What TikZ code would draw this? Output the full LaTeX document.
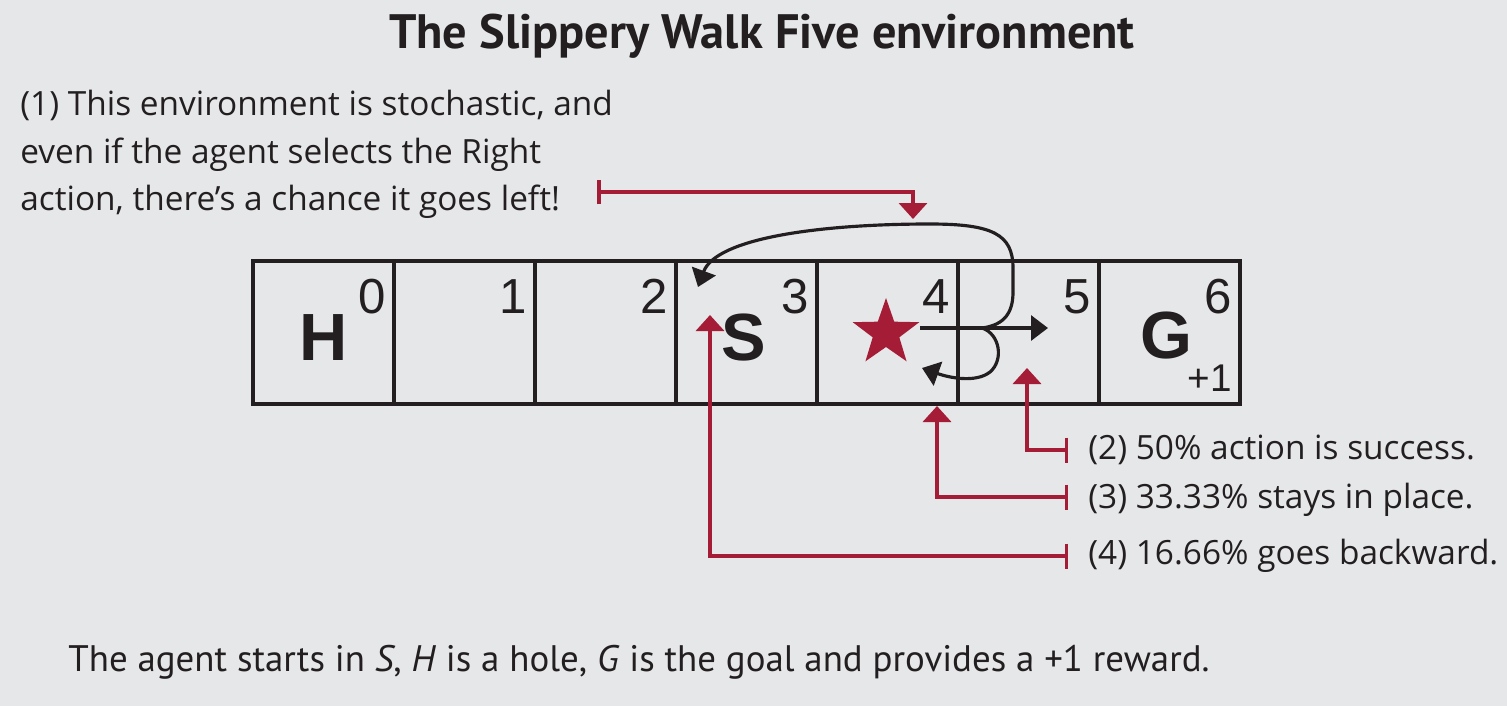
\documentclass[tikz,border=0pt]{standalone}
\usepackage{fontspec}
\setmainfont{PT Sans}
\newfontfamily\hintfont{Open Sans}
\newfontfamily\cellfont{Liberation Sans}
\usetikzlibrary{arrows.meta,shapes.geometric}
\definecolor{paper}{HTML}{E6E7E9}
\definecolor{ink}{HTML}{231F20}
\definecolor{wine}{HTML}{A51C36}

\begin{document}
\begin{tikzpicture}
  [x=0.02cm,y=-0.02cm,every node/.style={inner sep=0pt,text=ink},
   cellbox/.style={draw=ink,line width=2.2pt,minimum width=2.82cm,minimum height=2.86cm},
   cellnum/.style={font=\cellfont\fontsize{28}{28}\selectfont,anchor=north east},
   cellletter/.style={font=\cellfont\bfseries\fontsize{38}{38}\selectfont},
   hinttext/.style={font=\hintfont\fontsize{19}{27}\selectfont,align=left},
   movearrow/.style={draw=ink,line width=1.8pt,-{Triangle[width=0.5cm,length=0.34cm]}},
   hintarrow/.style={draw=wine,line width=2pt,{Bar[width=0.5cm]}-{Triangle[width=0.56cm,length=0.32cm]}}]
  \fill[paper] (0,0) rectangle (1507,706);

  \node[font=\bfseries\fontsize{27.5}{30}\selectfont] (title) at (762,36) {The Slippery Walk Five environment};

  % the seven cells of the walk
  \foreach \i in {0,...,6}
    \node[cellbox] (c\i) at ({323.5+141*\i},332.5) {};
  \foreach \i in {0,...,6}
    \node[cellnum] (n\i) at ([xshift=-0.2cm,yshift=-0.4cm]c\i.north east) {\i};
  \node[cellletter] (hole) at (324,338) {H};
  \node[cellletter] (start) at (744,338) {S};
  \node[cellletter] (goal) at (1166,336) {G};
  \node[font=\cellfont\fontsize{22}{22}\selectfont] (reward) at (1210,378) {+1};
  \node[star,star points=5,star point ratio=2.5,fill=wine,minimum size=1.4cm] (agent) at (886,333) {};

  % where the moves end
  \coordinate (fork) at (982,328);
  \coordinate (fwd) at (1048,328);
  \coordinate (back) at (698,287);
  \coordinate (stay) at (922,368);
  \draw[movearrow] (agent.outer point 5 |- fwd) -- (fwd);
  \draw[movearrow] (fork) .. controls (1005,325) and (1013,312) .. (1013,292)
    -- (1013,268) .. controls (1013,234) and (992,224) .. (930,224)
    .. controls (820,224) and (716,238) .. (back);
  \draw[movearrow] (fork) .. controls (1000,334) and (1004,360) .. (990,372)
    .. controls (976,383) and (950,378) .. (stay);

  % hand notes
  \node[hinttext,anchor=north west] (hint1) at (20,90) {(1) This environment is stochastic, and\\even if the agent selects the Right\\action, there’s a chance it goes left!};
  \node[hinttext,anchor=west] (hint2) at (1088,450) {(2) 50\% action is success.};
  \node[hinttext,anchor=west] (hint3) at (1088,500) {(3) 33.33\% stays in place.};
  \node[hinttext,anchor=west] (hint4) at (1088,556) {(4) 16.66\% goes backward.};
  \coordinate (tick1) at (597,192);
  \coordinate (tick2) at (1068,450);
  \coordinate (tick3) at (1068,497);
  \coordinate (tick4) at (1068,556);
  \coordinate (hit1) at (913,219);
  \coordinate (hit2) at (1027,368);
  \coordinate (hit3) at (937,406);
  \coordinate (hit4) at (710,315);
  \foreach \from/\to in {tick1/hit1,tick2/hit2,tick3/hit3,tick4/hit4}
    \draw[hintarrow] (\from) -| (\to);

  \node[anchor=west,font=\fontsize{21}{24}\selectfont] (caption) at (68,662) {The agent starts in \textit{S}, \textit{H} is a hole, \textit{G} is the goal and provides a +1 reward.};
\end{tikzpicture}
\end{document}
